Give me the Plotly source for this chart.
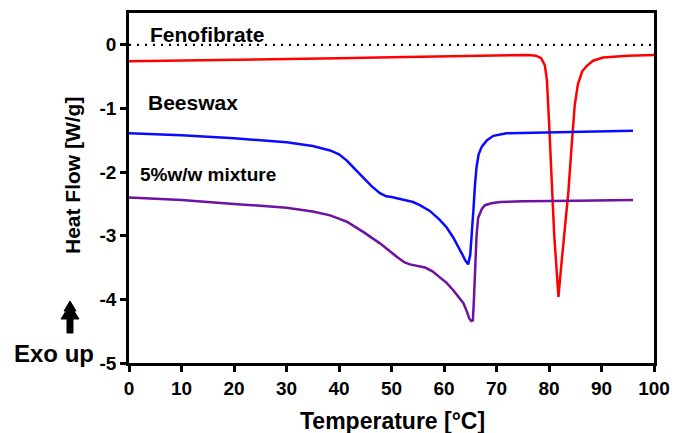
import plotly.graph_objects as go

# Fenofibrate (red)
feno_x = [0, 10, 20, 30, 40, 50, 60, 70, 76, 77.5, 78.5, 79.2, 79.6, 80.0, 80.5, 81.0, 81.5, 81.8,
          82.3, 83.0, 83.7, 84.3, 84.9, 85.5, 86.3, 87.2, 88.4, 90.3, 95, 100]
feno_y = [-0.26, -0.25, -0.235, -0.22, -0.21, -0.195, -0.18, -0.168, -0.16, -0.17, -0.21, -0.32,
          -0.55, -1.2, -2.2, -3.0, -3.6, -3.96, -3.5, -2.9, -2.3, -1.6, -0.95, -0.62, -0.42,
          -0.33, -0.25, -0.2, -0.17, -0.16]

# Beeswax (blue)
bees_x = [0, 10, 20, 30, 35, 38.3, 40, 41.5, 43, 44.6, 46.2, 47.8, 49, 50, 51.6, 53, 54.1, 55.4,
          57.3, 59.2, 60.5, 61.7, 62.6, 63.4, 64.0, 64.6, 65.0, 65.3, 65.6, 65.9, 66.2, 66.6,
          67.2, 68.2, 69.4, 71.9, 80, 90, 96]
bees_y = [-1.39, -1.42, -1.47, -1.53, -1.59, -1.66, -1.72, -1.82, -1.95, -2.08, -2.22, -2.33,
          -2.38, -2.39, -2.42, -2.45, -2.47, -2.52, -2.61, -2.75, -2.87, -3.02, -3.15, -3.28,
          -3.38, -3.45, -3.3, -3.0, -2.6, -2.2, -1.92, -1.72, -1.6, -1.5, -1.43, -1.39, -1.38,
          -1.36, -1.35]

# 5% w/w mixture (purple)
mix_x = [0, 10, 20, 30, 35, 38.3, 40.2, 41.5, 44.6, 47.8, 51, 52.5, 53.5, 55, 56.4, 57.8, 59.2,
         60.5, 61.8, 62.8, 63.7, 64.4, 64.8, 65.2, 65.5, 65.7, 65.9, 66.2, 66.5, 67.2, 67.8, 69,
         70.7, 75, 85, 96]
mix_y = [-2.40, -2.44, -2.50, -2.56, -2.62, -2.68, -2.74, -2.78, -2.94, -3.12, -3.33, -3.42,
         -3.45, -3.48, -3.50, -3.56, -3.65, -3.74, -3.86, -3.96, -4.06, -4.2, -4.3, -4.34, -4.33,
         -4.0, -3.5, -3.0, -2.72, -2.58, -2.52, -2.49, -2.47, -2.46, -2.45, -2.44]

# zero reference line
ref_x = [0, 100]
ref_y = [0, 0]

x_ticks = [0, 10, 20, 30, 40, 50, 60, 70, 80, 90, 100]
x_labels = ["0", "10", "20", "30", "40", "50", "60", "70", "80", "90", "100"]
y_ticks = [-5, -4, -3, -2, -1, 0]
y_labels = ["-5", "-4", "-3", "-2", "-1", "0"]

FONT = "Liberation Sans, Arial, sans-serif"
W, H = 675, 433
ML, MR, MT, MB = 129, 21, 13, 70

fig = go.Figure()
fig.add_trace(go.Scatter(x=ref_x, y=ref_y, mode="lines",
                         line=dict(color="black", width=2.2, dash="2px,6px"), showlegend=False))
fig.add_trace(go.Scatter(x=feno_x, y=feno_y, mode="lines", line=dict(color="#ff0000", width=2.5),
                         showlegend=False))
fig.add_trace(go.Scatter(x=bees_x, y=bees_y, mode="lines", line=dict(color="#0a0aff", width=2.5),
                         showlegend=False))
fig.add_trace(go.Scatter(x=mix_x, y=mix_y, mode="lines", line=dict(color="#6e12a0", width=2.5),
                         showlegend=False))

tickfont = dict(family=FONT, size=19, color="black", weight="bold")
fig.update_xaxes(range=[0, 100], tickvals=x_ticks, ticktext=["<b>%s</b>" % t for t in x_labels],
                 ticks="outside", ticklen=6, tickwidth=2.5, automargin=False,
                 tickcolor="black", showline=True, linecolor="black", linewidth=2.5, mirror=True,
                 showgrid=False, zeroline=False, tickfont=tickfont)
fig.update_yaxes(range=[-5, 0.5], tickvals=y_ticks, ticktext=["<b>%s</b>" % t for t in y_labels],
                 ticks="outside", ticklen=6, tickwidth=2.5, automargin=False,
                 tickcolor="black", showline=True, linecolor="black", linewidth=2.5, mirror=True,
                 showgrid=False, zeroline=False, tickfont=tickfont)

ann_font = lambda s: dict(family=FONT, size=s, color="black", weight="bold")
annotations = [
    dict(x=14.9, y=0.17, xref="x", yref="y", text="<b>Fenofibrate</b>", showarrow=False, font=ann_font(21)),
    dict(x=12.2, y=-0.9, xref="x", yref="y", text="<b>Beeswax</b>", showarrow=False, font=ann_font(21)),
    dict(x=15.0, y=-2.04, xref="x", yref="y", text="<b>5%w/w mixture</b>", showarrow=False, font=ann_font(19)),
    dict(x=0.501, y=-0.166, xref="paper", yref="paper", text="<b>Temperature [°C]</b>", showarrow=False,
         font=ann_font(23), xanchor="center", yanchor="middle"),
    dict(x=-0.1086, y=0.537, xref="paper", yref="paper", text="<b>Heat Flow [W/g]</b>", showarrow=False,
         textangle=-90, font=ann_font(21), xanchor="center", yanchor="middle"),
    dict(x=-0.143, y=0.026, xref="paper", yref="paper", text="<b>Exo up</b>", showarrow=False,
         font=ann_font(24), xanchor="center", yanchor="middle"),
]

# "Exo up" arrow drawn as a filled path in paper coordinates (pixel outline converted)
pw, ph = W - ML - MR, H - MT - MB
arrow_px = [(70, 301), (64, 311), (66, 311), (61, 319), (67, 319), (67, 333), (73, 333),
            (73, 319), (79, 319), (74, 311), (76, 311)]
pts = [((px - ML) / pw, (H - MB - py) / ph) for px, py in arrow_px]
path = "M " + " L ".join("%.5f,%.5f" % p for p in pts) + " Z"
shapes = [dict(type="path", xref="paper", yref="paper", path=path,
               fillcolor="black", line=dict(color="black", width=1))]

fig.update_layout(width=W, height=H, margin=dict(l=ML, r=MR, t=MT, b=MB, autoexpand=False),
                  plot_bgcolor="white", paper_bgcolor="white", annotations=annotations,
                  shapes=shapes)

fig.write_html("out.html", config={"displayModeBar": False},
               post_script="document.body.style.margin='0';")
